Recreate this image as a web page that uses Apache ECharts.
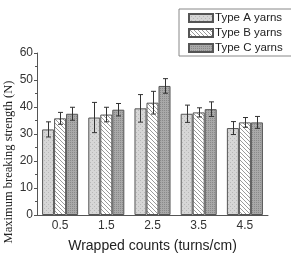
<!DOCTYPE html>
<html>
<head>
<meta charset="utf-8">
<script src="https://cdn.jsdelivr.net/npm/echarts@6/dist/echarts.min.js"></script>
<style>
html, body { margin: 0; padding: 0; background: #fff; }
#chart { width: 291px; height: 258px; }
</style>
</head>
<body>
<div id="chart"></div>
<script>
var categories = ['0.5', '1.5', '2.5', '3.5', '4.5'];
var seriesNames = ['Type A yarns', 'Type B yarns', 'Type C yarns'];
var typeA = [31.7, 36.1, 39.5, 37.5, 32.2];
var typeB = [35.8, 37.2, 41.6, 38.0, 34.3];
var typeC = [37.5, 39.0, 47.8, 39.2, 34.3];
var errA = [2.8, 5.6, 5.1, 3.2, 2.4];
var errB = [2.2, 2.7, 4.2, 1.7, 1.8];
var errC = [2.4, 2.3, 2.7, 2.7, 2.2];

// fill patterns like the Origin plot
function makePattern(kind) {
    var c = document.createElement('canvas');
    c.width = 4; c.height = 4;
    var g = c.getContext('2d');
    if (kind == 'A') {
        g.fillStyle = '#d6d6d6';
        g.fillRect(0, 0, 4, 4);
        g.fillStyle = '#b8b8b8';
        g.fillRect(0, 0, 1, 1);
        g.fillRect(2, 2, 1, 1);
    } else if (kind == 'B') {
        g.fillStyle = '#ffffff';
        g.fillRect(0, 0, 4, 4);
        g.fillStyle = '#9a9a9a';
        for (var i = 0; i < 4; i++) g.fillRect(i, i, 1, 1);
    } else {
        g.fillStyle = '#a9a9a9';
        g.fillRect(0, 0, 4, 4);
        g.fillStyle = '#8a8a8a';
        g.fillRect(0, 0, 1, 1);
        g.fillRect(2, 2, 1, 1);
        g.fillRect(2, 0, 1, 1);
        g.fillRect(0, 2, 1, 1);
    }
    return c;
}

var values = [typeA, typeB, typeC];
var errors = [errA, errB, errC];
var patterns = ['A', 'B', 'C'];
var barFrac = 0.26;

var series = [];
for (var s = 0; s < 3; s++) {
    series.push({
        name: seriesNames[s],
        type: 'bar',
        barWidth: (barFrac * 100) + '%',
        barGap: '0%',
        itemStyle: {
            color: { image: makePattern(patterns[s]), repeat: 'repeat' },
            borderColor: '#555',
            borderWidth: 1
        },
        data: values[s]
    });
}

for (var s = 0; s < 3; s++) {
    var errData = [];
    for (var i = 0; i < categories.length; i++) {
        errData.push([i, values[s][i], errors[s][i]]);
    }
    (function (off) {
        series.push({
            type: 'custom',
            z: 5,
            silent: true,
            renderItem: function (params, api) {
                var idx = api.value(0);
                var v = api.value(1);
                var e = api.value(2);
                var bw = api.size([1, 0])[0] * barFrac;
                var top = api.coord([idx, v + e]);
                var bot = api.coord([idx, v - e]);
                var x = Math.round(top[0] + off * bw) + 0.5;
                var st = { stroke: '#333', lineWidth: 1 };
                return {
                    type: 'group',
                    children: [
                        { type: 'line', shape: { x1: x, y1: top[1], x2: x, y2: bot[1] }, style: st },
                        { type: 'line', shape: { x1: x - 2.5, y1: top[1], x2: x + 2.5, y2: top[1] }, style: st },
                        { type: 'line', shape: { x1: x - 2.5, y1: bot[1], x2: x + 2.5, y2: bot[1] }, style: st }
                    ]
                };
            },
            encode: { x: 0, y: 1 },
            data: errData
        });
    })(s - 1);
}

var option = {
    animation: false,
    grid: { left: 37, right: 23, top: 53, bottom: 35 },
    legend: {
        data: seriesNames,
        orient: 'vertical',
        icon: 'rect',
        left: 179,
        top: 9,
        itemWidth: 24,
        itemHeight: 8,
        itemGap: 3,
        padding: [3, 12, 2, 9],
        borderColor: '#888',
        borderWidth: 1,
        textStyle: { fontFamily: 'Liberation Sans', fontSize: 11.5, color: '#222', padding: [0, 0, 0, -3] }
    },
    xAxis: {
        type: 'category',
        data: categories,
        name: 'Wrapped counts (turns/cm)',
        nameLocation: 'middle',
        nameGap: 24,
        nameTextStyle: { fontFamily: 'Liberation Sans', fontSize: 14, color: '#222' },
        axisLine: { lineStyle: { color: '#555' } },
        axisTick: { show: false },
        axisLabel: { fontFamily: 'Liberation Sans', fontSize: 12, color: '#333', margin: 5 }
    },
    yAxis: {
        type: 'value',
        min: 0,
        max: 60,
        interval: 10,
        axisLine: { show: true, lineStyle: { color: '#555' } },
        axisTick: { show: true, length: 3, lineStyle: { color: '#555' } },
        minorTick: { show: true, splitNumber: 2, length: 2, lineStyle: { color: '#555' } },
        splitLine: { show: false },
        axisLabel: { fontFamily: 'Liberation Sans', fontSize: 12, color: '#333', margin: 4 }
    },
    graphic: [{
        type: 'text',
        x: 9,
        y: 162,
        rotation: Math.PI / 2,
        style: {
            text: 'Maximum breaking strength (N)',
            font: '12.5px "Liberation Serif"',
            fill: '#222',
            textAlign: 'center',
            textVerticalAlign: 'middle'
        }
    }],
    series: series
};

var chart = echarts.init(document.getElementById('chart'));
chart.setOption(option);
</script>
</body>
</html>
